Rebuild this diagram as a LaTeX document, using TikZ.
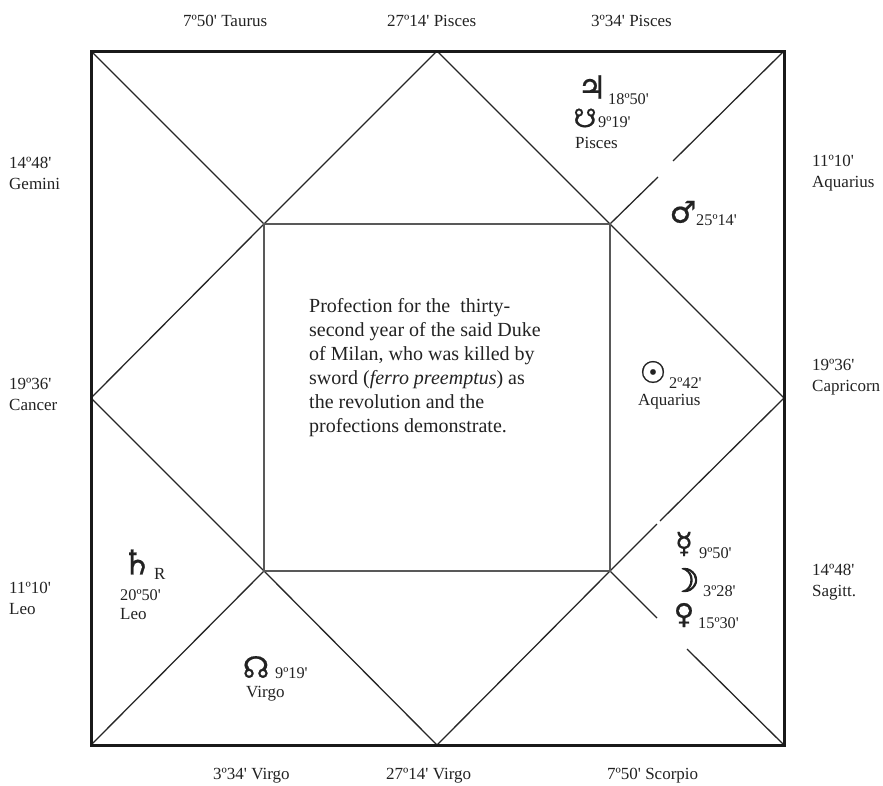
\documentclass[tikz,border=0pt]{standalone}
\usepackage{fontspec}
\setmainfont[Ligatures=TeXOff]{Liberation Serif}
\newfontfamily\symfont[FakeBold=0.6]{DejaVu Sans}
\newfontfamily\symfontb[FakeBold=3]{DejaVu Sans}
\definecolor{ink}{HTML}{222222}
\tikzset{
  outerframe/.style={draw=black!90,line width=3pt,line join=miter},
  innerframe/.style={draw=black!65,line width=1.8pt},
  rule/.style={draw=black!85,line width=1.3pt},
  lab/.style={text=ink,font=\fontsize{17}{21}\selectfont,inner sep=0pt,align=left,anchor=west},
  deg/.style={text=ink,font=\fontsize{16.3}{19}\selectfont,inner sep=0pt,anchor=west},
  pl/.style={text=ink,inner sep=0pt,anchor=center,font=\symfont\fontsize{#1}{#1}\selectfont},
  pl/.default=28,
  main/.style={text=ink,font=\fontsize{20}{24.1}\selectfont,inner sep=0pt,align=left,anchor=north west}
}
\begin{document}
\begin{tikzpicture}[x=1pt,y=-1pt]
\useasboundingbox (0,0) rectangle (883,785);
\coordinate (tl) at (91,51); \coordinate (tr) at (784,51);
\coordinate (bl) at (91,745); \coordinate (br) at (784,745);
\coordinate (tm) at (437,51); \coordinate (rm) at (784,398);
\coordinate (bm) at (437,745); \coordinate (lm) at (91,398);
\coordinate (itl) at (264,224); \coordinate (itr) at (610,224);
\coordinate (ibl) at (264,571); \coordinate (ibr) at (610,571);
\coordinate (g1a) at (658,177); \coordinate (g1b) at (673,161);
\coordinate (g2a) at (657,618); \coordinate (g2b) at (687,649);
\coordinate (g3a) at (657,524); \coordinate (g3b) at (660,521);
% diamond and diagonals
\draw[rule] (tm) -- (itl) -- (lm) -- (ibl) -- (bm) -- (ibr);
\draw[rule] (ibr) -- (g3a) (g3b) -- (rm) -- (itr) -- (tm);
\draw[rule] (tl) -- (itl);
\draw[rule] (bl) -- (ibl);
\draw[rule] (itr) -- (g1a) (g1b) -- (tr);
\draw[rule] (ibr) -- (g2a) (g2b) -- (br);
\draw[innerframe] (itl) rectangle (ibr);
\draw[outerframe] (tl) rectangle (br);
% outer labels
\node[lab] (t1) at (183,21) {7º50' Taurus};
\node[lab] (t2) at (387,21) {27º14' Pisces};
\node[lab] (t3) at (591,21) {3º34' Pisces};
\node[lab] (b1) at (213,776) {3º34' Virgo};
\node[lab] (b2) at (386,776) {27º14' Virgo};
\node[lab] (b3) at (607,776) {7º50' Scorpio};
\node[lab] (l1) at (9,173) {14º48'\\Gemini};
\node[lab] (l2) at (9,394) {19º36'\\Cancer};
\node[lab] (l3) at (9,598) {11º10'\\ Leo};
\node[lab] (r1) at (812,173) {11º10'\\Aquarius};
\node[lab] (r2) at (812,377) {19º36'\\Capricorn};
\node[lab] (r3) at (812,582) {14º48'\\Sagitt.};
% centre text
\node[main] (txt) at (309,298) {Profection for the\ \ thirty-\\second year of the said Duke\\of Milan, who was killed by\\sword (\textit{ferro preemptus}) as\\the revolution and the\\profections demonstrate.};
% planets
\node[pl=32] (jup) at (592,87) {♃};
\node[deg] at (608,99) {18º50'};
\node[pl=26] (ket) at (585,118) {☋};
\node[deg] at (598,122) {9º19'};
\node[lab] (pis) at (575,143) {Pisces};
\node[pl=30] (mar) at (683,212) {♂};
\node[deg] at (696,220) {25º14'};
\node[pl=30] (sun) at (653,372) {☉};
\node[deg] at (669,383) {2º42'};
\node[lab] (aq) at (638,402) {Aquarius};
\node[pl=29] (mer) at (684,544) {☿};
\node[deg] at (699,553) {9º50'};
\node[pl=32,font=\symfontb\fontsize{32}{32}\selectfont] (moo) at (685,580) {☽};
\node[deg] at (703,591) {3º28'};
\node[pl=28] (ven) at (684,615) {♀};
\node[deg] at (698,623) {15º30'};
\node[pl=34] (sat) at (137,562) {♄};
\node[lab] (rr) at (154,574) {R};
\node[deg] at (120,595) {20º50'};
\node[lab] (leo) at (120,614) {Leo};
\node[pl=30] (nod) at (256,667) {☊};
\node[deg] at (275,673) {9º19'};
\node[lab] (vir) at (246,694) {Virgo};
\end{tikzpicture}
\end{document}
